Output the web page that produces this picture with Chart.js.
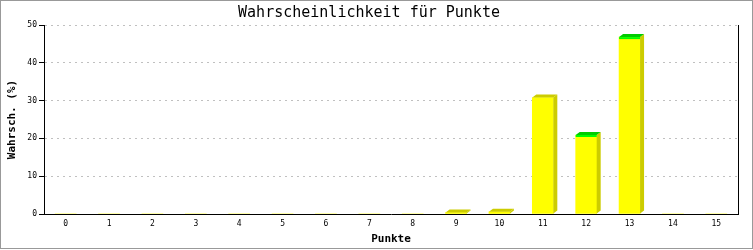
<!DOCTYPE html>
<html>
<head>
<meta charset="utf-8">
<script src="https://cdn.jsdelivr.net/npm/chart.js@4/dist/chart.umd.min.js"></script>
<style>
  html, body { margin: 0; padding: 0; background: #fff; }
  #wrap { width: 753px; height: 250px; }
</style>
</head>
<body>
<div id="wrap"><canvas id="chart" width="753" height="250"></canvas></div>
<script>
// ── Data ──
const punkte = ['0', '1', '2', '3', '4', '5', '6', '7', '8', '9', '10', '11', '12', '13', '14', '15'];
const wahrsch = [0, 0, 0, 0, 0, 0, 0, 0, 0, 0.4, 0.6, 30.8, 20.9, 46.8, 0, 0];
const yTicks = [0, 10, 20, 30, 40, 50];

// top face colour per bar (style only)
const topColors = punkte.map(function (p, i) {
    return wahrsch[i] > 20 && i !== 11 ? '#00cc00' : '#cccc00';
});

const MONO = "'DejaVu Sans Mono', monospace";

// ── 3D faces + frame ──
const depthPlugin = {
    id: 'depth',
    afterDatasetsDraw: function (chart) {
        const ctx = chart.ctx;
        const meta = chart.getDatasetMeta(0);
        const dx = 4, dy = 3;
        ctx.save();
        meta.data.forEach(function (bar, i) {
            if (!wahrsch[i]) return;
            const p = bar.getProps(['x', 'y', 'base', 'width'], true);
            const l = p.x - p.width / 2, r = p.x + p.width / 2;
            // side
            ctx.fillStyle = '#cccc00';
            ctx.beginPath();
            ctx.moveTo(r, p.y);
            ctx.lineTo(r + dx, p.y - dy);
            ctx.lineTo(r + dx, p.base - dy);
            ctx.lineTo(r, p.base);
            ctx.closePath();
            ctx.fill();
            // top
            ctx.fillStyle = topColors[i];
            ctx.beginPath();
            ctx.moveTo(l, p.y);
            ctx.lineTo(l + dx, p.y - dy);
            ctx.lineTo(r + dx, p.y - dy);
            ctx.lineTo(r, p.y);
            ctx.closePath();
            ctx.fill();
            if (topColors[i] === '#00cc00') {
                ctx.fillStyle = '#00ff00';
                ctx.fillRect(l, p.y, p.width, 2);
            }
        });
        ctx.restore();
    },
    afterDraw: function (chart) {
        const ctx = chart.ctx;
        const a = chart.chartArea;
        ctx.save();
        ctx.strokeStyle = '#000';
        ctx.lineWidth = 1;
        ctx.beginPath();
        ctx.moveTo(Math.round(a.right) + 0.5, a.top);
        ctx.lineTo(Math.round(a.right) + 0.5, a.bottom + 0.5);
        ctx.stroke();
        ctx.strokeStyle = '#999';
        ctx.strokeRect(0.5, 0.5, 752, 248);
        ctx.restore();
    }
};

new Chart(document.getElementById('chart'), {
    type: 'bar',
    data: {
        labels: punkte,
        datasets: [{
            label: 'Wahrsch. (%)',
            data: wahrsch,
            backgroundColor: '#ffff00',
            borderWidth: 0,
            barThickness: 21,
        }]
    },
    options: {
        responsive: false,
        animation: false,
        devicePixelRatio: 1,
        layout: { padding: { left: 0, right: 15, top: 0, bottom: 0 } },
        plugins: {
            legend: { display: false },
            tooltip: { enabled: false },
            title: {
                display: true,
                text: 'Wahrscheinlichkeit für Punkte',
                color: '#000',
                font: { family: MONO, size: 15, weight: 'normal' },
                padding: { top: 4, bottom: 3 },
            }
        },
        scales: {
            x: {
                grid: { display: false, drawTicks: false },
                border: { display: true, color: '#000', width: 1 },
                ticks: {
                    color: '#000',
                    font: { family: MONO, size: 8 },
                    padding: 5,
                    maxRotation: 0,
                    autoSkip: false,
                },
                title: {
                    display: true,
                    text: 'Punkte',
                    color: '#000',
                    font: { family: MONO, size: 11, weight: 'bold' },
                    padding: { top: 0, bottom: 4 },
                },
                afterFit: function (scale) { scale.height = 36; }
            },
            y: {
                min: 0,
                max: 50,
                afterBuildTicks: function (scale) {
                    scale.ticks = yTicks.map(function (v) { return { value: v }; });
                },
                grid: {
                    color: '#c0c0c0',
                    tickColor: '#000',
                    tickLength: 5,
                    lineWidth: 1,
                },
                border: { display: true, color: '#000', width: 1, dash: [2, 4] },
                ticks: {
                    color: '#000',
                    font: { family: MONO, size: 8 },
                    padding: 2,
                },
                title: {
                    display: true,
                    text: 'Wahrsch. (%)',
                    color: '#000',
                    font: { family: MONO, size: 11, weight: 'bold' },
                    padding: { top: 6, bottom: 0 },
                },
                afterFit: function (scale) { scale.width = 44; }
            }
        }
    },
    plugins: [depthPlugin]
});
</script>
</body>
</html>
